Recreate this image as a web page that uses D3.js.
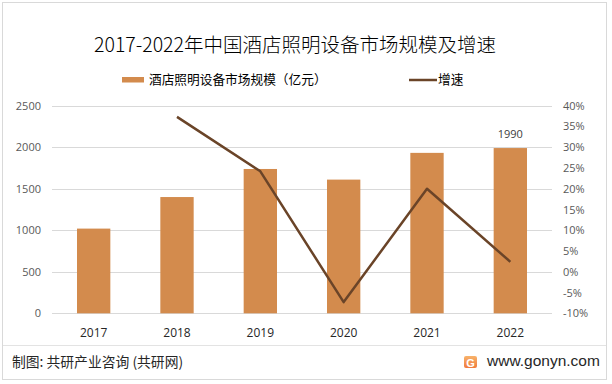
<!DOCTYPE html>
<html>
<head>
<meta charset="utf-8">
<script src="https://cdn.jsdelivr.net/npm/d3@7.9.0/dist/d3.min.js"></script>
<style>
  body { margin: 0; background: #fff; }
  svg { display: block; font-family: "Noto Sans CJK SC", sans-serif; }
</style>
</head>
<body>
<svg id="chart" width="612" height="384"></svg>
<script>
const years = ["2017", "2018", "2019", "2020", "2021", "2022"];
const marketSize = [1020, 1400, 1738, 1610, 1932, 1990];
const growth = [null, 37.3, 24.2, -7.3, 20.0, 2.4];
const leftTicks = [0, 500, 1000, 1500, 2000, 2500];
const rightTicks = [-10, -5, 0, 5, 10, 15, 20, 25, 30, 35, 40];

const svg = d3.select("#chart");
const barColor = "#D38B4D";
const lineColor = "#6A4428";
const numFont = "'Open Sans', 'Noto Sans', sans-serif";

// outer frame + footer divider
svg.append("rect")
    .attr("x", 2.5).attr("y", 2.5)
    .attr("width", 604).attr("height", 377)
    .attr("fill", "#fff").attr("stroke", "#d9d9d9");
svg.append("line")
    .attr("x1", 3).attr("x2", 606).attr("y1", 345.5).attr("y2", 345.5)
    .attr("stroke", "#e3e3e3");

const plot = { left: 52, right: 552, top: 105.7, bottom: 313.3 };

let x = d3.scaleBand().domain(years).range([plot.left, plot.right]).paddingInner(0.6).paddingOuter(0.3);
let yL = d3.scaleLinear().domain([0, 2500]).range([plot.bottom, plot.top]);
let yR = d3.scaleLinear().domain([-10, 40]).range([plot.bottom, plot.top]);

// gridlines
svg.append("g")
    .selectAll("line")
    .data(leftTicks)
    .join("line")
    .attr("x1", plot.left).attr("x2", plot.right)
    .attr("y1", d => Math.round(yL(d)) + 0.5).attr("y2", d => Math.round(yL(d)) + 0.5)
    .attr("stroke", "#d9d9d9");

// left axis
let leftAxis = svg.append("g")
    .attr("transform", `translate(${plot.left - 11},0)`)
    .call(d3.axisLeft(yL).tickValues(leftTicks).tickSize(0).tickPadding(0).tickFormat(d3.format("d")));
leftAxis.select(".domain").remove();
leftAxis.selectAll("text").attr("font-size", 11).attr("fill", "#595959")
    .attr("font-family", numFont);

// right axis
let rightAxis = svg.append("g")
    .attr("transform", `translate(${plot.right + 11},0)`)
    .call(d3.axisRight(yR).tickValues(rightTicks).tickSize(0).tickPadding(0).tickFormat(d => d + "%"));
rightAxis.select(".domain").remove();
rightAxis.selectAll("text").attr("font-size", 11).attr("fill", "#595959")
    .attr("font-family", numFont);

// x axis labels
let xAxis = svg.append("g")
    .attr("transform", `translate(0,${plot.bottom + 15})`)
    .call(d3.axisBottom(x).tickSize(0).tickPadding(0));
xAxis.select(".domain").remove();
xAxis.selectAll("text").attr("font-size", 12).attr("fill", "#262626")
    .attr("font-family", numFont);

// bars
svg.append("g")
    .selectAll("rect")
    .data(marketSize)
    .join("rect")
    .attr("x", (d, i) => x(years[i]))
    .attr("y", d => yL(d))
    .attr("width", x.bandwidth())
    .attr("height", d => plot.bottom - yL(d))
    .attr("fill", barColor);

// label on last bar
svg.append("text")
    .attr("x", x(years[5]) + x.bandwidth() / 2)
    .attr("y", yL(marketSize[5]) - 10)
    .attr("text-anchor", "middle")
    .attr("font-size", 11)
    .attr("fill", "#404040")
    .attr("font-family", numFont)
    .text(marketSize[5]);

// growth line
let lineData = years.map((y, i) => ({ year: y, value: growth[i] })).filter(d => d.value !== null);
let line = d3.line()
    .x(d => x(d.year) + x.bandwidth() / 2)
    .y(d => yR(d.value));
svg.append("path")
    .datum(lineData)
    .attr("d", line)
    .attr("fill", "none")
    .attr("stroke", lineColor)
    .attr("stroke-width", 2.5)
    .attr("stroke-linejoin", "round");

// title
svg.append("text")
    .attr("x", 295).attr("y", 52)
    .attr("text-anchor", "middle")
    .attr("font-size", 19.5)
    .attr("font-weight", 300)
    .attr("fill", "#000")
    .text("2017-2022年中国酒店照明设备市场规模及增速");

// legend
svg.append("rect")
    .attr("x", 122).attr("y", 77).attr("width", 22).attr("height", 5.5)
    .attr("fill", barColor);
svg.append("text")
    .attr("x", 149).attr("y", 84)
    .attr("font-size", 12.7).attr("fill", "#000")
    .text("酒店照明设备市场规模（亿元）");
svg.append("line")
    .attr("x1", 409).attr("x2", 437).attr("y1", 80).attr("y2", 80)
    .attr("stroke", lineColor).attr("stroke-width", 2.5);
svg.append("text")
    .attr("x", 438).attr("y", 84)
    .attr("font-size", 12.7).attr("fill", "#000")
    .text("增速");

// footer
svg.append("text")
    .attr("x", 12).attr("y", 367)
    .attr("font-size", 13.8).attr("fill", "#262626")
    .text("制图: 共研产业咨询 (共研网)");

let logo = svg.append("g").attr("transform", "translate(464,356)");
let grad = svg.append("defs").append("linearGradient")
    .attr("id", "logoGrad").attr("x1", 0).attr("y1", 0).attr("x2", 0).attr("y2", 1);
grad.append("stop").attr("offset", 0).attr("stop-color", "#F8B36B");
grad.append("stop").attr("offset", 1).attr("stop-color", "#F07A3C");
logo.append("rect").attr("width", 13).attr("height", 12).attr("rx", 2).attr("fill", "url(#logoGrad)");
logo.append("text").attr("x", 6.5).attr("y", 10.5).attr("text-anchor", "middle")
    .attr("font-size", 11).attr("font-weight", "bold").attr("fill", "#fff")
    .attr("font-family", "'Liberation Sans', sans-serif").text("G");

svg.append("text")
    .attr("x", 487).attr("y", 366)
    .attr("font-size", 15.5).attr("fill", "#262626")
    .attr("font-family", "'Liberation Sans', 'DejaVu Sans', sans-serif")
    .text("www.gonyn.com");
</script>
</body>
</html>
